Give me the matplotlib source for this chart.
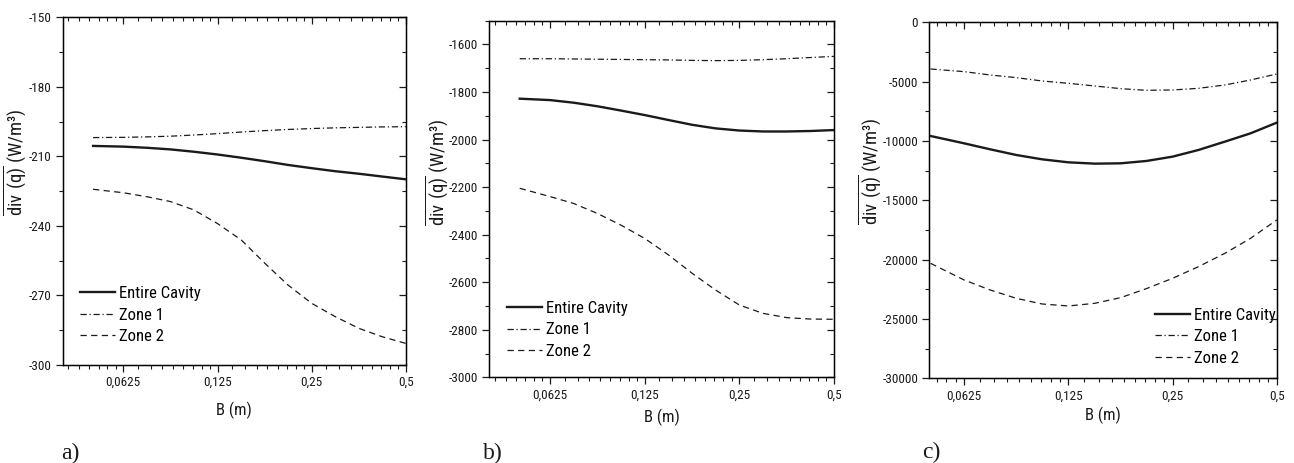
import numpy as np
import matplotlib
matplotlib.use('Agg')
import matplotlib.pyplot as plt
from matplotlib import font_manager
from matplotlib.ticker import FixedLocator, NullFormatter

# narrow sans face if one is around, else plain Liberation Sans with smaller sizes
installed = {f.name for f in font_manager.fontManager.ttflist}
narrow = next((n for n in ['Liberation Sans Narrow', 'Roboto Condensed'] if n in installed), None)
base_font = narrow or 'Liberation Sans'
k = 1.0 if narrow else 0.88

plt.rcParams['font.family'] = [base_font, 'Liberation Sans', 'DejaVu Sans']
plt.rcParams['mathtext.fontset'] = 'custom'
plt.rcParams['mathtext.rm'] = base_font

# --- data: cavity width B (m) and mean div(q) for each case ---
B = [0.05, 0.0625, 0.0743, 0.0884, 0.105, 0.125, 0.149, 0.177, 0.21, 0.25, 0.297, 0.354, 0.42, 0.5]

a_entire = [-205.5, -205.8, -206.3, -207.0, -208.0, -209.2, -210.6, -212.1, -213.7, -215.1, -216.4, -217.5, -218.7, -219.9]
a_zone1 = [-201.9, -201.8, -201.6, -201.3, -200.8, -200.2, -199.5, -198.9, -198.4, -198.0, -197.7, -197.5, -197.3, -197.2]
a_zone2 = [-224.2, -225.7, -227.4, -229.5, -233.1, -239.0, -246.1, -256.1, -265.5, -273.4, -279.1, -284.2, -287.8, -290.7]

b_entire = [-1828, -1834, -1845, -1860, -1878, -1897, -1918, -1938, -1953, -1962, -1966, -1966, -1964, -1960]
b_zone1 = [-1660, -1660, -1661, -1662, -1663, -1664, -1665, -1667, -1668, -1667, -1664, -1660, -1655, -1650]
b_zone2 = [-2205, -2240, -2269, -2311, -2360, -2416, -2486, -2563, -2633, -2696, -2731, -2749, -2755, -2756]

c_entire = [-9579, -10197, -10702, -11180, -11545, -11798, -11910, -11882, -11685, -11320, -10758, -10056, -9354, -8455]
c_zone1 = [-3933, -4157, -4438, -4663, -4944, -5140, -5365, -5590, -5730, -5702, -5562, -5281, -4860, -4354]
c_zone2 = [-20309, -21713, -22556, -23258, -23736, -23904, -23680, -23202, -22444, -21573, -20590, -19466, -18202, -16657]

x_ticks = [0.0625, 0.125, 0.25, 0.5]
x_tick_labels = ['0,0625', '0,125', '0,25', '0,5']
series_names = ['Entire Cavity', 'Zone 1', 'Zone 2']
y_title = r'$\overline{\mathrm{div\ (q)}}$ (W/m³)'

ink = '#1a1a1a'
line_styles = [dict(ls='-', lw=1.7), dict(ls=(0, (5, 2.2, 1, 2.2)), lw=0.9), dict(ls=(0, (5, 3.5)), lw=0.9)]

# minor ticks: 8 linear subdivisions inside every octave
minor_x = [m * (1 + i / 9) for m in [0.03125, 0.0625, 0.125, 0.25] for i in range(1, 9)]

W, H = 1294, 463
fig = plt.figure(figsize=(W / 100, H / 100), dpi=100)

panels = [
    # rect, xlim, ylim, major y, minor y, legend anchor, ylabel centre (px), xlabel pad, data, tag, tag pos
    ([0.0485, 0.2117, 0.2651, 0.7510], (0.04, 0.5), (-300, -150),
     np.arange(-300, -149, 30), np.arange(-285, -150, 30), (0.05, 0.227), (15.5, 162.5), 9,
     [a_entire, a_zone1, a_zone2], 'a)', (0.047, 0.008)),
    ([0.3781, 0.1851, 0.2664, 0.7702], (0.04, 0.5), (-3000, -1500),
     np.arange(-3000, -1599, 200), np.arange(-2900, -1499, 200), (0.052, 0.214), (437.5, 172.5), 5,
     [b_entire, b_zone1, b_zone2], 'b)', (0.373, 0.008)),
    ([0.7182, 0.1829, 0.2685, 0.7689], (0.0496, 0.5), (-30000, 0),
     np.arange(-30000, 1, 5000), np.arange(-27500, 0, 5000), (0.65, 0.198), (870.5, 171.5), 3,
     [c_entire, c_zone1, c_zone2], 'c)', (0.713, 0.01)),
]

for rect, xlim, ylim, yt, ymin, leg_xy, lab_px, xpad, curves, tag, tag_xy in panels:
    ax = fig.add_axes(rect)
    for y, name, st in zip(curves, series_names, line_styles):
        ax.plot(B, y, color=ink, label=name, **st)

    xminor = [v for v in minor_x if xlim[0] < v < xlim[1]]
    ax.set_xscale('log', base=2)
    ax.set_xlim(*xlim)
    ax.set_ylim(*ylim)
    ax.xaxis.set_major_locator(FixedLocator(x_ticks))
    ax.set_xticklabels(x_tick_labels)
    ax.xaxis.set_minor_locator(FixedLocator(xminor))
    ax.xaxis.set_minor_formatter(NullFormatter())
    ax.yaxis.set_major_locator(FixedLocator(yt))
    ax.set_yticklabels([str(int(v)) for v in yt])
    ax.yaxis.set_minor_locator(FixedLocator(ymin))
    ax.tick_params(which='major', direction='out', length=5, width=0.9, labelsize=9.5 * k, colors=ink, pad=3)
    ax.tick_params(which='minor', direction='out', length=3, width=0.8, colors=ink)
    for s in ax.spines.values():
        s.set_linewidth(1.0)
        s.set_color('#333333')

    # inward ticks on the top and right frame
    top = ax.twiny()
    top.set_xscale('log', base=2)
    top.set_xlim(*xlim)
    top.xaxis.set_major_locator(FixedLocator(x_ticks))
    top.xaxis.set_minor_locator(FixedLocator(xminor))
    top.xaxis.set_major_formatter(NullFormatter())
    top.xaxis.set_minor_formatter(NullFormatter())
    top.tick_params(which='major', direction='in', length=5, width=0.9, colors=ink)
    top.tick_params(which='minor', direction='in', length=3, width=0.8, colors=ink)
    right = ax.twinx()
    right.set_ylim(*ylim)
    right.yaxis.set_major_locator(FixedLocator(yt))
    right.yaxis.set_minor_locator(FixedLocator(ymin))
    right.yaxis.set_major_formatter(NullFormatter())
    right.tick_params(which='major', direction='in', length=5, width=0.9, colors=ink)
    right.tick_params(which='minor', direction='in', length=3, width=0.8, colors=ink)

    ax.set_xlabel('B (m)', fontsize=12 * k, color=ink, labelpad=xpad)
    fig.text(lab_px[0] / W, 1 - lab_px[1] / H, y_title, fontsize=13.5 * k, color=ink,
             rotation=90, ha='center', va='center')

    ax.legend(loc='upper left', bbox_to_anchor=leg_xy, frameon=False, fontsize=12 * k,
              handlelength=2.1, handletextpad=0.25, labelspacing=0.39,
              borderpad=0, borderaxespad=0)

    fig.text(tag_xy[0], tag_xy[1], tag, fontsize=17, family='Liberation Serif', color=ink)

fig.savefig('out.png', dpi=100)
